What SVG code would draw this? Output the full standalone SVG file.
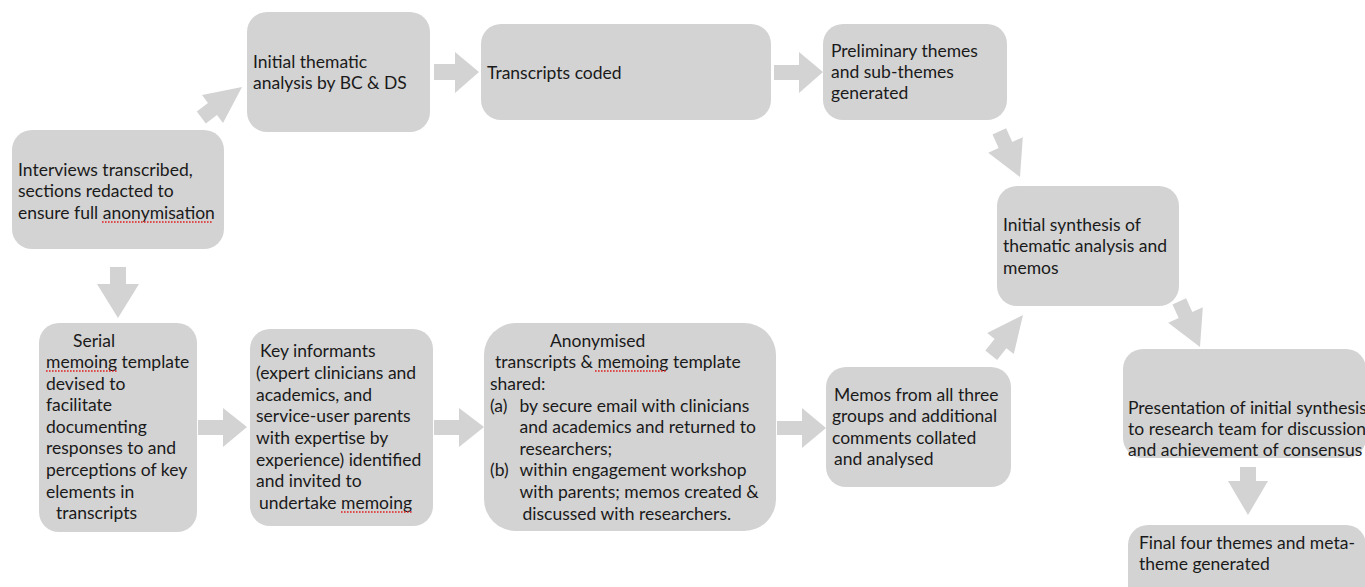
<svg xmlns="http://www.w3.org/2000/svg" width="1365" height="587" viewBox="0 0 1365 587">
<style>
.box{fill:#d3d3d3}
.arr{fill:#d3d3d3}
.t{font-family:Lato,"Liberation Sans",sans-serif;font-size:17.5px;fill:#1a1a1a}
.sq{stroke:#e02020;stroke-width:1.6;stroke-dasharray:1.6 1.4;fill:none}
</style>
<rect width="1365" height="587" fill="#ffffff"/>
<g id="connectors">
<polygon class="arr" points="196.8,111.4 208,103 202,95 242,87 223,123 217,115 205.8,123.4"/>
<polygon class="arr" points="434,64 455,64 455,52 479,72 455,93 455,80 434,80"/>
<polygon class="arr" points="774,65 799,65 799,52 823,72 799,93 799,80 774,80"/>
<polygon class="arr" points="1006.1,128.2 1012.3,141.9 1022.8,137.2 1020,177 988.2,152.8 998.7,148.1 992.5,134.4"/>
<polygon class="arr" points="1186.1,298.2 1192.3,311.9 1202.8,307.2 1200,347 1168.2,322.8 1178.7,318.1 1172.5,304.4"/>
<polygon class="arr" points="985.3,350.6 994.6,338.9 987.2,333 1023,315 1013.8,354 1006.4,348.2 997.1,359.9"/>
<polygon class="arr" points="110,267 126,267 126,284 139,284 118,318 97,284 110,284"/>
<polygon class="arr" points="198,420 223,420 223,408 247,427 223,447 223,435 198,435"/>
<polygon class="arr" points="434,420 459,420 459,408 484,427 459,447 459,435 434,435"/>
<polygon class="arr" points="777,421 802,421 802,408 826,428 802,448 802,435 777,435"/>
<polygon class="arr" points="1240,467 1256,467 1256,481 1268,481 1248,515 1228,481 1240,481"/>
</g>
<g id="n-interviews">
<rect class="box" x="12" y="130" width="212" height="119" rx="20"/>
<text class="t"><tspan x="18" y="176">Interviews transcribed,</tspan><tspan x="18" y="197">sections redacted to</tspan><tspan x="18" y="219">ensure full anonymisation</tspan></text>
<line class="sq" x1="102" y1="222" x2="212" y2="222"/>
</g>
<g id="n-initial">
<rect class="box" x="247" y="12" width="183" height="120" rx="20"/>
<text class="t"><tspan x="253" y="68">Initial thematic</tspan><tspan x="253" y="89">analysis by BC &amp; DS</tspan></text>
</g>
<g id="n-coded">
<rect class="box" x="481" y="24" width="290" height="96" rx="20"/>
<text class="t" x="487" y="79">Transcripts coded</text>
</g>
<g id="n-prelim">
<rect class="box" x="823" y="24" width="184" height="96" rx="20"/>
<text class="t"><tspan x="831" y="57">Preliminary themes</tspan><tspan x="831" y="78">and sub-themes</tspan><tspan x="831" y="99">generated</tspan></text>
</g>
<g id="n-synthesis">
<rect class="box" x="997" y="186" width="182" height="120" rx="20"/>
<text class="t"><tspan x="1003" y="231">Initial synthesis of</tspan><tspan x="1003" y="252">thematic analysis and</tspan><tspan x="1003" y="274">memos</tspan></text>
</g>
<g id="n-serial">
<rect class="box" x="39" y="323" width="158" height="209" rx="20"/>
<text class="t"><tspan x="73" y="347">Serial</tspan><tspan x="46" y="368">memoing template</tspan><tspan x="46" y="390">devised to</tspan><tspan x="46" y="411">facilitate</tspan><tspan x="46" y="433">documenting</tspan><tspan x="46" y="454">responses to and</tspan><tspan x="46" y="476">perceptions of key</tspan><tspan x="46" y="498">elements in</tspan><tspan x="56" y="519">transcripts</tspan></text>
<line class="sq" x1="46" y1="371" x2="117" y2="371"/>
</g>
<g id="n-key">
<rect class="box" x="250" y="329" width="183" height="197" rx="20"/>
<text class="t"><tspan x="260" y="357">Key informants</tspan><tspan x="256" y="379">(expert clinicians and</tspan><tspan x="256" y="401">academics, and</tspan><tspan x="256" y="422">service-user parents</tspan><tspan x="256" y="444">with expertise by</tspan><tspan x="256" y="466">experience) identified</tspan><tspan x="256" y="487">and invited to</tspan><tspan x="259" y="509">undertake memoing</tspan></text>
<line class="sq" x1="341" y1="512" x2="413" y2="512"/>
</g>
<g id="n-anon">
<rect class="box" x="484" y="323" width="292" height="208" rx="32"/>
<text class="t"><tspan x="550" y="347">Anonymised</tspan><tspan x="495" y="368">transcripts &amp; memoing template</tspan><tspan x="490" y="390">shared:</tspan><tspan x="490" y="412">(a)</tspan><tspan x="519.5" y="412">by secure email with clinicians</tspan><tspan x="519.5" y="433">and academics and returned to</tspan><tspan x="519.5" y="455">researchers;</tspan><tspan x="490" y="476">(b)</tspan><tspan x="519.5" y="476">within engagement workshop</tspan><tspan x="519.5" y="498">with parents; memos created &amp;</tspan><tspan x="522.5" y="520">discussed with researchers.</tspan></text>
<line class="sq" x1="595" y1="371" x2="667" y2="371"/>
</g>
<g id="n-memos">
<rect class="box" x="826" y="367" width="185" height="120" rx="20"/>
<text class="t"><tspan x="834" y="401">Memos from all three</tspan><tspan x="832" y="422">groups and additional</tspan><tspan x="832" y="444">comments collated</tspan><tspan x="834" y="465">and analysed</tspan></text>
</g>
<g id="n-present">
<rect class="box" x="1123" y="349" width="243" height="109" rx="20"/>
<text class="t"><tspan x="1128" y="414">Presentation of initial synthesis</tspan><tspan x="1128" y="435">to research team for discussion</tspan><tspan x="1128" y="456">and achievement of consensus</tspan></text>
</g>
<g id="n-final">
<rect class="box" x="1128" y="525" width="238" height="90" rx="20"/>
<text class="t"><tspan x="1139" y="549">Final four themes and meta-</tspan><tspan x="1139" y="570">theme generated</tspan></text>
</g>
</svg>
